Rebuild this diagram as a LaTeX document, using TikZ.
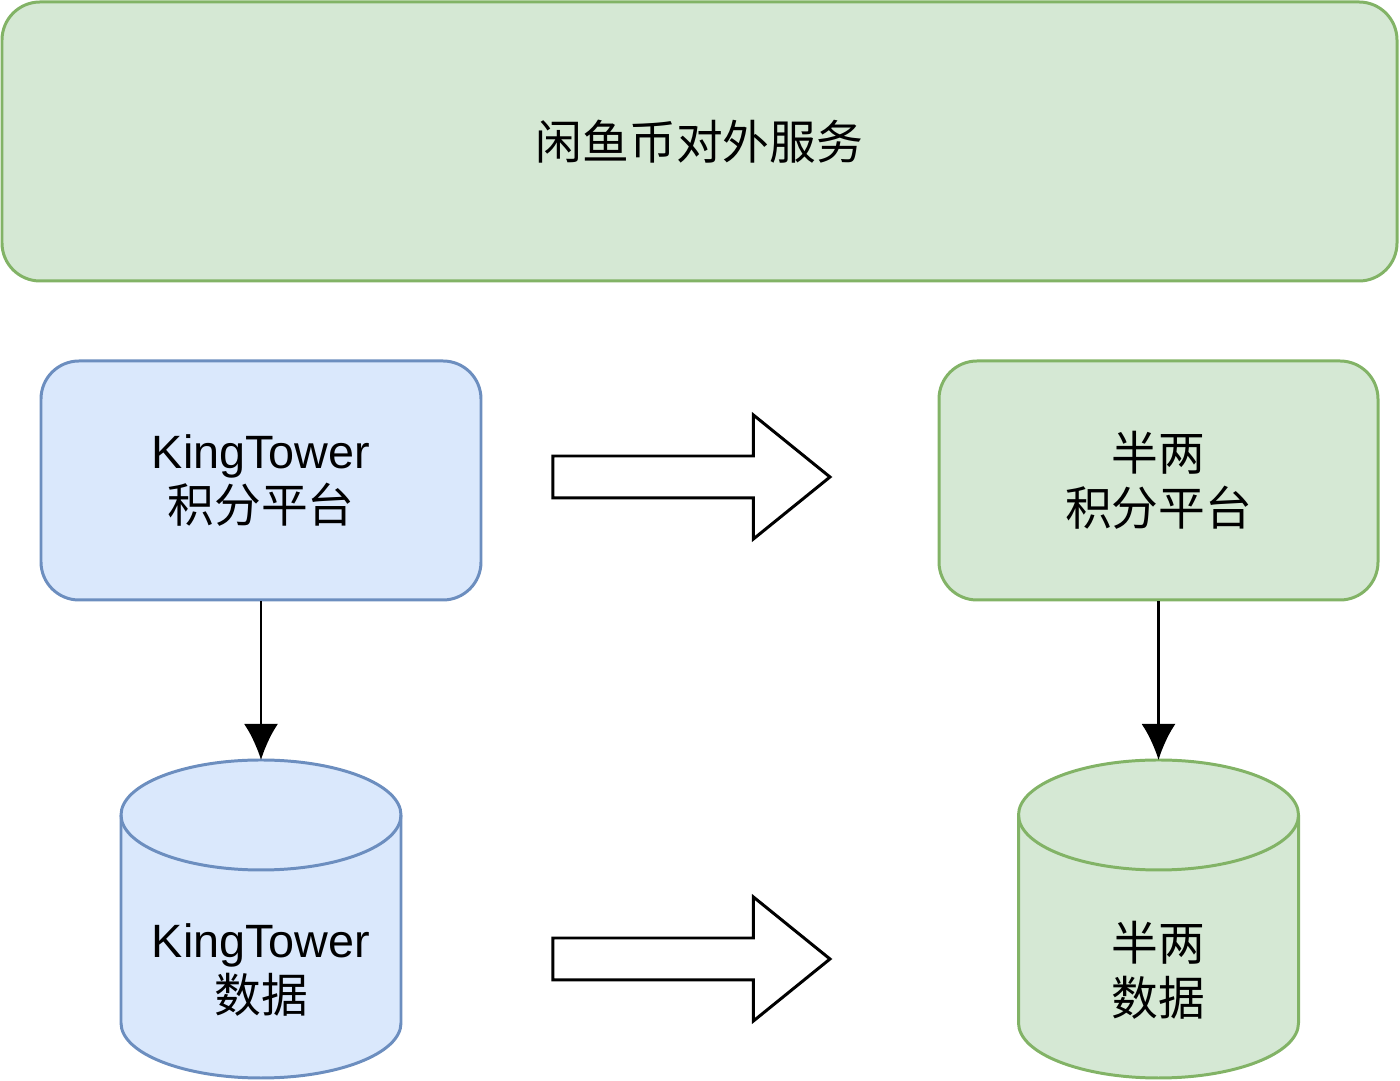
\documentclass[tikz,border=0pt]{standalone}
\usepackage{fontspec}
\setmainfont{Liberation Sans}
\newfontfamily\cjk{Noto Sans CJK SC}
\usetikzlibrary{shapes.arrows,arrows.meta}
\definecolor{gfill}{HTML}{D5E8D4}
\definecolor{gline}{HTML}{82B366}
\definecolor{bfill}{HTML}{DAE8FC}
\definecolor{bline}{HTML}{6C8EBF}
\begin{document}
\begin{tikzpicture}[
    svc/.style={rectangle, draw=gline, fill=gfill, rounded corners=0.38cm, line width=0.85pt, font=\fontsize{13.3}{15.6}\selectfont, align=center},
    kt/.style={rectangle, draw=bline, fill=bfill, rounded corners=0.38cm, line width=0.85pt, minimum width=4.4cm, minimum height=2.39cm, font=\fontsize{13.3}{15.6}\selectfont, align=center},
    bl/.style={rectangle, draw=gline, fill=gfill, rounded corners=0.38cm, line width=0.85pt, minimum width=4.39cm, minimum height=2.39cm, font=\fontsize{13.3}{15.6}\selectfont, align=center},
    dbtext/.style={font=\fontsize{13.3}{15.6}\selectfont, align=center},
    move/.style={single arrow, draw, fill=white, line width=0.85pt, inner sep=0pt, text height=0.39cm, text depth=0pt, minimum height=2.77cm, single arrow head extend=0.41cm, single arrow tip angle=78},
    link/.style={-{Latex[length=0.36cm,width=0.34cm]}, line width=0.85pt}
]
\useasboundingbox (0,0) rectangle (14,-10.81);

% service layer
\node[svc, minimum width=13.95cm, minimum height=2.79cm] (coin) at (6.995,-1.415) {\cjk 闲鱼币对外服务};

% platforms
\node[kt] (ktpf) at (2.61,-4.805) {KingTower\\{\cjk 积分平台}};
\node[bl] (blpf) at (11.585,-4.805) {{\cjk 半两}\\{\cjk 积分平台}};

% data stores
\foreach \cx/\fc/\lc in {2.61/bfill/bline, 11.585/gfill/gline} {
  \draw[draw=\lc, fill=\fc, line width=0.85pt] (\cx-1.4,-8.15) -- (\cx-1.4,-10.23) arc(180:360:1.4 and 0.55) -- (\cx+1.4,-8.15) arc(0:180:1.4 and 0.55) -- cycle;
  \draw[draw=\lc, line width=0.85pt] (\cx-1.4,-8.15) arc(180:360:1.4 and 0.55);
}
\coordinate (ktdbtop) at (2.61,-7.60);
\coordinate (bldbtop) at (11.585,-7.60);
\node[dbtext] (ktdb) at (2.61,-9.70) {KingTower\\{\cjk 数据}};
\node[dbtext] (bldb) at (11.585,-9.70) {{\cjk 半两}\\{\cjk 数据}};

% migration
\node[move] (mvpf) at (6.785,-4.77) {};
\node[move] (mvdb) at (6.785,-9.59) {};

% links
\draw[link] (ktpf) -- (ktdbtop);
\draw[link] (blpf) -- (bldbtop);

\end{tikzpicture}
\end{document}
